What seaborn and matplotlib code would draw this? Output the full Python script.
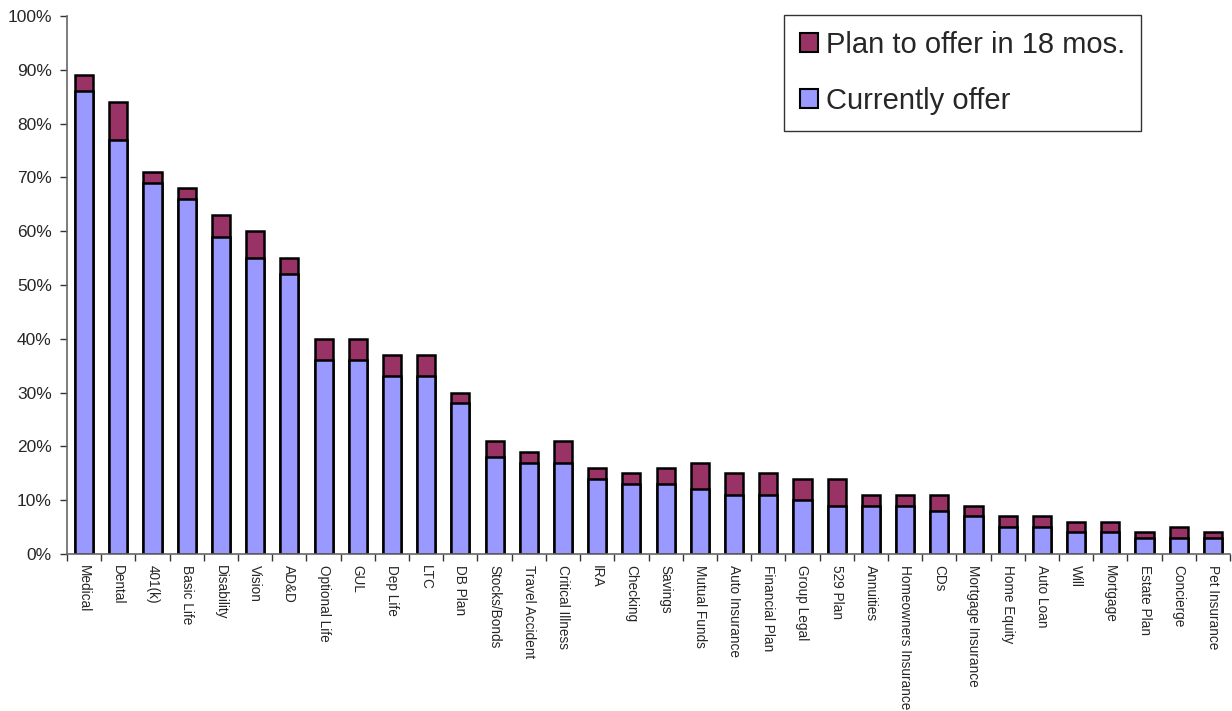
import numpy as np
import pandas as pd
import matplotlib
matplotlib.use("Agg")
import matplotlib.pyplot as plt
import seaborn as sns
from matplotlib.patches import Patch
from matplotlib.ticker import FixedLocator, PercentFormatter

categories = [
    "Medical", "Dental", "401(k)", "Basic Life", "Disability", "Vision", "AD&D",
    "Optional Life", "GUL", "Dep Life", "LTC", "DB Plan", "Stocks/Bonds",
    "Travel Accident", "Critical Illness", "IRA", "Checking", "Savings",
    "Mutual Funds", "Auto Insurance", "Financial Plan", "Group Legal", "529 Plan",
    "Annuities", "Homeowners Insurance", "CDs", "Mortgage Insurance",
    "Home Equity", "Auto Loan", "Will", "Mortgage", "Estate Plan", "Concierge",
    "Pet Insurance",
]
currently_offer = [86, 77, 69, 66, 59, 55, 52, 36, 36, 33, 33, 28, 18, 17, 17,
                   14, 13, 13, 12, 11, 11, 10, 9, 9, 9, 8, 7, 5, 5, 4, 4, 3, 3, 3]
plan_to_offer = [3, 7, 2, 2, 4, 5, 3, 4, 4, 4, 4, 2, 3, 2, 4,
                 2, 2, 3, 5, 4, 4, 4, 5, 2, 2, 3, 2, 2, 2, 2, 2, 1, 2, 1]
y_ticks = list(range(0, 101, 10))

df = pd.DataFrame({
    "category": categories,
    "current": currently_offer,
    "planned": plan_to_offer,
})
df["total"] = df["current"] + df["planned"]

sns.set_style("white")
plt.rcParams["font.family"] = ["Liberation Sans", "DejaVu Sans"]

fig = plt.figure(figsize=(12.32, 7.11), dpi=100)
ax = fig.add_axes([0.0544, 0.2208, 0.944, 0.7567])

blue = "#9999FF"
maroon = "#993366"

# Total height drawn first in maroon, current share drawn over it in blue
sns.barplot(data=df, x="category", y="total", color=maroon, width=0.53,
            edgecolor="black", linewidth=1.8, saturation=1, ax=ax)
sns.barplot(data=df, x="category", y="current", color=blue, width=0.53,
            edgecolor="black", linewidth=1.8, saturation=1, ax=ax)

n = len(categories)
ax.set_xlim(-0.5, n - 0.5)
ax.set_ylim(0, 100)
ax.set_xlabel("")
ax.set_ylabel("")

ax.yaxis.set_major_locator(FixedLocator(y_ticks))
ax.yaxis.set_major_formatter(PercentFormatter(decimals=0))
ax.tick_params(axis="y", which="major", length=5, width=1, color="#333333",
               direction="out", left=True, labelsize=12.5, pad=6)

ax.set_xticks(range(n))
ax.set_xticklabels(categories, rotation=270, ha="center", va="top", fontsize=9.8)
ax.tick_params(axis="x", which="major", length=0, pad=8)
ax.set_xticks(np.arange(-0.5, n, 1.0), minor=True)
ax.tick_params(axis="x", which="minor", length=5, width=1, color="#333333",
               direction="out", bottom=True)

for side in ("top", "right"):
    ax.spines[side].set_visible(False)
for side in ("left", "bottom"):
    ax.spines[side].set_color("#666666")
    ax.spines[side].set_linewidth(1.2)
ax.grid(False)

handles = [
    Patch(facecolor=maroon, edgecolor="black", linewidth=1.5, label="Plan to offer in 18 mos."),
    Patch(facecolor=blue, edgecolor="black", linewidth=1.5, label="Currently offer"),
]
leg = ax.legend(handles=handles, loc="upper left", bbox_to_anchor=(0.6165, 1.002),
                fontsize=21, frameon=True, fancybox=False, edgecolor="black",
                handlelength=0.6, handleheight=0.6, handletextpad=0.3,
                labelspacing=0.95, borderpad=0.55, borderaxespad=0)
leg.get_frame().set_linewidth(1.0)

fig.savefig("out.png", dpi=100, facecolor="white")
